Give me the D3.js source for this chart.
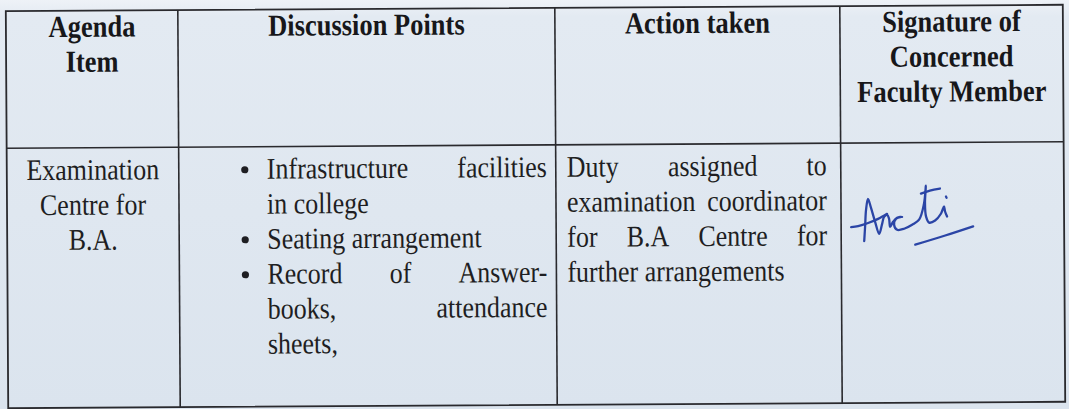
<!DOCTYPE html>
<html><head><meta charset="utf-8">
<script src="https://cdn.jsdelivr.net/npm/d3@7"></script>
<style>html,body{margin:0;padding:0;background:#dde6ef;overflow:hidden}svg{display:block}</style>
</head><body><svg id="c" width="1069" height="409"></svg>
<script>
// ---- data ----
const headerLines = [["Agenda","Item"],["Discussion Points"],["Action taken"],["Signature of","Concerned","Faculty Member"]];
const agendaLines = ["Examination","Centre for","B.A."];
const discussionBullets = [["Infrastructure facilities","in college"],["Seating arrangement"],["Record of Answer-","books, attendance","sheets,"]];
const actionLines = ["Duty assigned to","examination coordinator","for B.A Centre for","further arrangements"];
// handwritten signature strokes (ink)
const signatureStrokes = [
  [[864,243],[865,228],[866,212],[868,201],[871,210],[875,224],[879,236],[882,226],[884,219],[887,217],[889,221],[890,229],[893,224],[897,220],[902,219],[896,221],[894,227],[897,232],[904,231],[912,227],[919,222],[924,206],[926,188],[925,205],[926,219],[929,225],[935,223],[941,216],[944,209],[945,214],[947,219]],
  [[851,229],[858,228],[868,225],[878,221],[887,216]],
  [[921,196],[930,193],[940,191]],
  [[946,199],[946.6,200.2]],
  [[915,247],[945,238],[973,229]]
];

// ---- layout ----
const W = 1069, H = 409;
const colEdges = [7, 179, 556, 841, 1064];
const rowEdges = [8, 145, 405];
const font = "'Liberation Serif','Times New Roman',serif";
const lineH = 35;
const stretch = 1.15;

const svg = d3.select("#c");
const defs = svg.append("defs");
const grad = defs.append("linearGradient").attr("id","bg").attr("x1",0).attr("y1",0).attr("x2",0).attr("y2",1);
grad.append("stop").attr("offset","0%").attr("stop-color","#eef2f7");
grad.append("stop").attr("offset","4%").attr("stop-color","#e3eaf2");
grad.append("stop").attr("offset","100%").attr("stop-color","#dbe4ee");
svg.append("rect").attr("width",W).attr("height",H).attr("fill","url(#bg)");

const g = svg.append("g").attr("transform","rotate(-0.35,535,205)");

const x = i => colEdges[i];
const y = i => rowEdges[i];

// grid lines
const ink = "#2a2a2e";
g.append("rect").attr("x",x(0)).attr("y",y(0)).attr("width",x(4)-x(0)).attr("height",y(2)-y(0))
  .attr("fill","none").attr("stroke",ink).attr("stroke-width",1.8);
g.selectAll("line.v").data([1,2,3]).join("line").attr("class","v")
  .attr("x1",x).attr("x2",x).attr("y1",y(0)).attr("y2",y(2)).attr("stroke",ink).attr("stroke-width",1.6);
g.append("line").attr("x1",x(0)).attr("x2",x(4)).attr("y1",y(1)).attr("y2",y(1)).attr("stroke",ink).attr("stroke-width",1.6);

const place = (sel, px, py) => sel.attr("transform",`translate(${px},${py}) scale(1,${stretch})`);

// header
const headBase = 34;
headerLines.forEach((lines,ci)=>{
  const cx = (x(ci)+x(ci+1))/2;
  g.selectAll(null).data(lines).join("text")
    .attr("transform",(d,i)=>`translate(${cx},${headBase+i*lineH}) scale(1,${stretch})`)
    .attr("text-anchor","middle").attr("font-family",font).attr("font-weight","bold")
    .attr("font-size",26.5).attr("fill","#17171a").text(d=>d);
});

// body
const bodyBase = 177;
const txtCol = "#1e1e22";
g.selectAll(null).data(agendaLines).join("text")
  .attr("transform",(d,i)=>`translate(${(x(0)+x(1))/2},${bodyBase+i*lineH}) scale(1,${stretch})`)
  .attr("text-anchor","middle").attr("font-family",font).attr("font-size",26).attr("fill",txtCol).text(d=>d);

function justifiedLine(str, x0, x1, yy, justify){
  const words = str.split(" ");
  const tmp = words.map(w=>g.append("text").attr("font-family",font).attr("font-size",26).attr("fill",txtCol).text(w));
  const widths = tmp.map(t=>t.node().getComputedTextLength());
  const spaceW = 26*0.25;
  const total = d3.sum(widths);
  const gap = (justify && words.length>1) ? (x1-x0-total)/(words.length-1) : spaceW;
  let cx = x0;
  tmp.forEach((t,i)=>{ place(t, cx, yy); cx += widths[i]+gap; });
}

// discussion points
let li = 0;
const bulletX = 245, textX0 = 267, textX1 = 547;
discussionBullets.forEach(par=>{
  g.append("circle").attr("cx",bulletX).attr("cy",bodyBase+li*lineH-9).attr("r",3.6).attr("fill",txtCol);
  par.forEach((ln,k)=>{
    justifiedLine(ln, textX0, textX1, bodyBase+li*lineH, k<par.length-1);
    li++;
  });
});

// action taken
actionLines.forEach((ln,k)=>{
  justifiedLine(ln, 567, 827, bodyBase+k*lineH, k<actionLines.length-1);
});

// signature
const line = d3.line().curve(d3.curveCatmullRom.alpha(0.5));
g.selectAll("path.sig").data(signatureStrokes).join("path").attr("class","sig")
  .attr("d",line).attr("fill","none").attr("stroke","#2b45a6").attr("stroke-width",2.3)
  .attr("stroke-linecap","round").attr("stroke-linejoin","round");
</script></body></html>
